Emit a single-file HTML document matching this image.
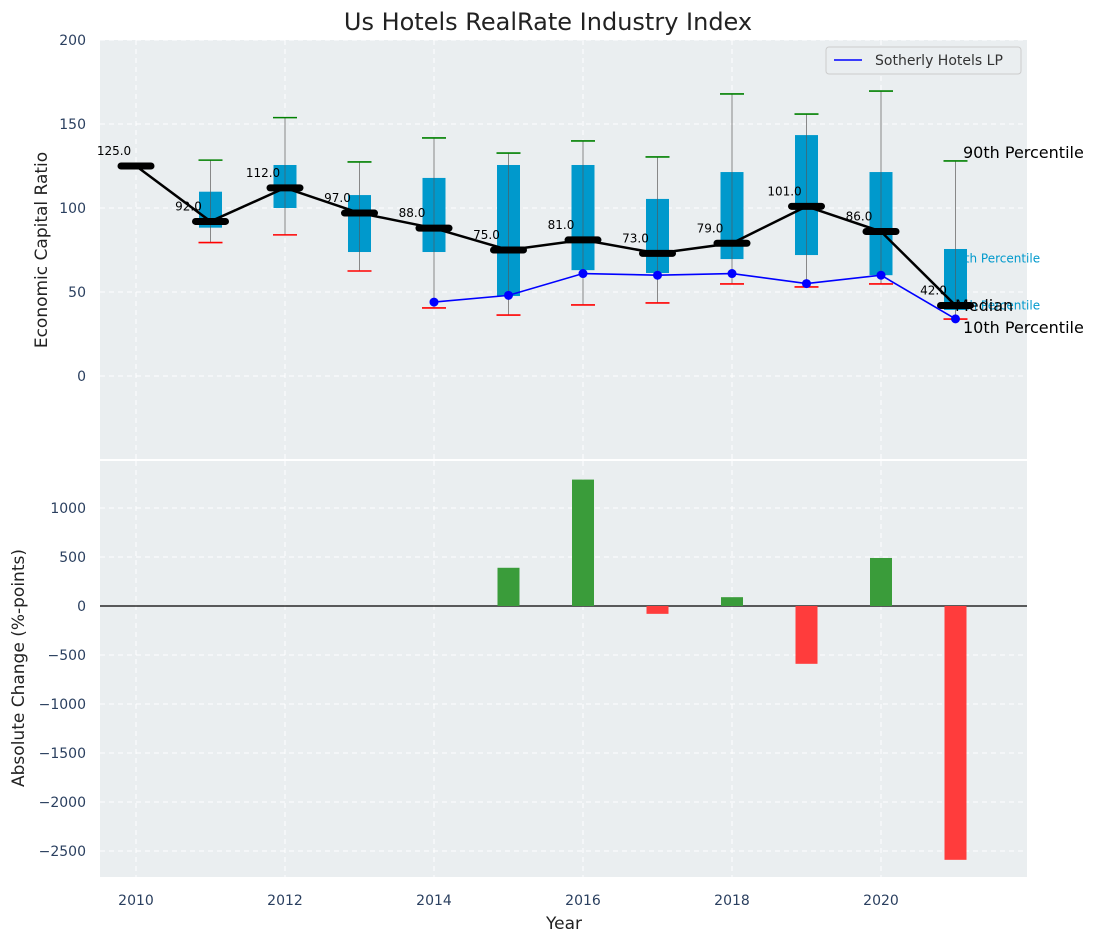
<!DOCTYPE html>
<html><head><meta charset="utf-8"><style>
body{margin:0;background:#fff;}
svg{display:block;font-family:"DejaVu Sans","Liberation Sans",sans-serif;}
</style></head><body>
<svg id="chart" width="1098" height="942" xmlns="http://www.w3.org/2000/svg"></svg>
<script>
const years=[2010,2011,2012,2013,2014,2015,2016,2017,2018,2019,2020,2021];
const medians=[125,92,112,97,88,75,81,73,79,101,86,42];
const p90=[null,128.5,153.8,127.4,141.7,132.7,139.9,130.4,167.9,155.9,169.6,128];
const p75=[null,109.7,125.6,107.7,117.9,125.6,125.6,105.4,121.4,143.4,121.4,75.6];
const p25=[null,88.3,100,73.8,73.8,47.6,63,61.3,69.6,72,60,39.3];
const p10=[null,79.4,84,62.5,40.5,36.3,42.3,43.5,54.8,53,54.8,33.9];
const companyYears=[2014,2015,2016,2017,2018,2019,2020,2021];
const companyVals=[44,48,61,60,61,55,60,34];
const changeYears=[2015,2016,2017,2018,2019,2020,2021];
const changeVals=[390,1290,-80,90,-590,490,-2590];
const topTicks=[0,50,100,150,200];
const botTicks=[-2500,-2000,-1500,-1000,-500,0,500,1000];
const xTicks=[2010,2012,2014,2016,2018,2020];

const svg=document.getElementById('chart');
const NS='http://www.w3.org/2000/svg';
function el(tag,attrs,parent,text){const e=document.createElementNS(NS,tag);for(const k in attrs)e.setAttribute(k,attrs[k]);if(text!==undefined)e.textContent=text;(parent||svg).appendChild(e);return e;}
const X=y=>136+(y-2010)*74.5;
const Yt=v=>376-v*1.68;
const Yb=v=>606-v*0.098;
const L=100,R=1027;

let g=el('rect',{x:L,y:40,width:R-L,height:419,fill:'#eaeef0'});


g=el('rect',{x:L,y:461,width:R-L,height:416,fill:'#eaeef0'});



// grids
for(let i=2010;i<=2020;i+=2){
 el('line',{x1:X(i),x2:X(i),y1:40,y2:459,stroke:'#fff','stroke-dasharray':'5,4','stroke-width':1});
 el('line',{x1:X(i),x2:X(i),y1:461,y2:877,stroke:'#fff','stroke-dasharray':'5,4','stroke-width':1});
}
topTicks.forEach(t=>{el('line',{x1:L,x2:R,y1:Yt(t),y2:Yt(t),stroke:'#fff','stroke-dasharray':'5,4'});
 const tx=el('text',{x:86,y:Yt(t)+5,'text-anchor':'end','font-size':14,fill:'#2a3f5f'},null,t);
 
 });
botTicks.forEach(t=>{el('line',{x1:L,x2:R,y1:Yb(t),y2:Yb(t),stroke:'#fff','stroke-dasharray':'5,4'});
 const tx=el('text',{x:86,y:Yb(t)+5,'text-anchor':'end','font-size':14,fill:'#2a3f5f'},null,t<0?'\u2212'+(-t):t);
 
 });
xTicks.forEach(t=>{const tx=el('text',{x:X(t),y:905,'text-anchor':'middle','font-size':14,fill:'#2a3f5f'},null,t);
 
 });

// annotation texts behind boxes
el('text',{x:X(2021)-6,y:Yt(70)+4,'font-size':12,fill:'#0099cc'},null,'75th Percentile');
el('text',{x:X(2021)-6,y:Yt(42)+4,'font-size':12,fill:'#0099cc'},null,'25th Percentile');

// boxes
years.forEach((yr,i)=>{
 if(p90[i]===null)return;
 const x=X(yr);
 const w=el('line',{x1:x,x2:x,y1:Yt(p90[i]),y2:Yt(p10[i]),stroke:'#888','stroke-width':1});
 
 
 const b=el('rect',{x:x-11.5,y:Yt(p75[i]),width:23,height:Yt(p25[i])-Yt(p75[i]),fill:'#0099cc'});
 
 
 el('line',{x1:x,x2:x,y1:Yt(p75[i]),y2:Yt(p25[i]),stroke:'#555','stroke-width':1,opacity:0.6});
 const c1=el('line',{x1:x-12,x2:x+12,y1:Yt(p90[i]),y2:Yt(p90[i]),stroke:'green','stroke-width':1.6});
 
 
 const c2=el('line',{x1:x-12,x2:x+12,y1:Yt(p10[i]),y2:Yt(p10[i]),stroke:'red','stroke-width':1.6});
 
 
});
// median line
const mp=el('polyline',{points:years.map((y,i)=>X(y)+','+Yt(medians[i])).join(' '),fill:'none',stroke:'#000','stroke-width':2.5});


years.forEach((yr,i)=>{
 const m=el('line',{x1:X(yr)-15,x2:X(yr)+15,y1:Yt(medians[i]),y2:Yt(medians[i]),stroke:'#000','stroke-width':7,'stroke-linecap':'round'});
 
 
 const t=el('text',{x:X(yr)-22,y:Yt(medians[i])-11,'text-anchor':'middle','font-size':12,fill:'#000'},null,medians[i].toFixed(1));
 
 
});
// company line
const cl=el('polyline',{points:companyYears.map((y,i)=>X(y)+','+Yt(companyVals[i])).join(' '),fill:'none',stroke:'#0000ff','stroke-width':1.6});


companyYears.forEach((y,i)=>{const c=el('circle',{cx:X(y),cy:Yt(companyVals[i]),r:4.5,fill:'#0000ff'});
 
 });

el('text',{x:963,y:158,'font-size':16,fill:'#000'},null,'90th Percentile');
el('text',{x:955,y:311,'font-size':16,fill:'#000'},null,'Median');
el('text',{x:963,y:333,'font-size':16,fill:'#000'},null,'10th Percentile');

// bars
el('line',{x1:L,x2:R,y1:Yb(0),y2:Yb(0),stroke:'#000','stroke-width':1.2});
changeYears.forEach((y,i)=>{const v=changeVals[i];
 const b=el('rect',{x:X(y)-11,y:Math.min(Yb(v),Yb(0)),width:22,height:Math.abs(Yb(v)-Yb(0)),fill:v>=0?'#3a9c3a':'#ff3c3c'});
 
 });

// separator
el('line',{x1:L,x2:R,y1:460,y2:460,stroke:'#fff','stroke-width':2});

// legend
const lg=el('g',{});


el('rect',{x:826,y:47,width:195,height:27,rx:3,fill:'#eaeef0',stroke:'#ccc'},lg);
el('line',{x1:834,x2:862,y1:60,y2:60,stroke:'#0000ff','stroke-width':1.6},lg);
el('text',{x:875,y:65,'font-size':14,fill:'#333'},lg,'Sotherly Hotels LP');

// titles
let t=el('text',{x:548,y:30,'text-anchor':'middle','font-size':24,fill:'#222'},null,'Us Hotels RealRate Industry Index');

t=el('text',{x:0,y:0,transform:'translate(47,250) rotate(-90)','text-anchor':'middle','font-size':17,fill:'#222'},null,'Economic Capital Ratio');

t=el('text',{x:0,y:0,transform:'translate(24,668) rotate(-90)','text-anchor':'middle','font-size':17,fill:'#222'},null,'Absolute Change (%-points)');

t=el('text',{x:564,y:929,'text-anchor':'middle','font-size':17,fill:'#222'},null,'Year');

</script>
</body></html>
